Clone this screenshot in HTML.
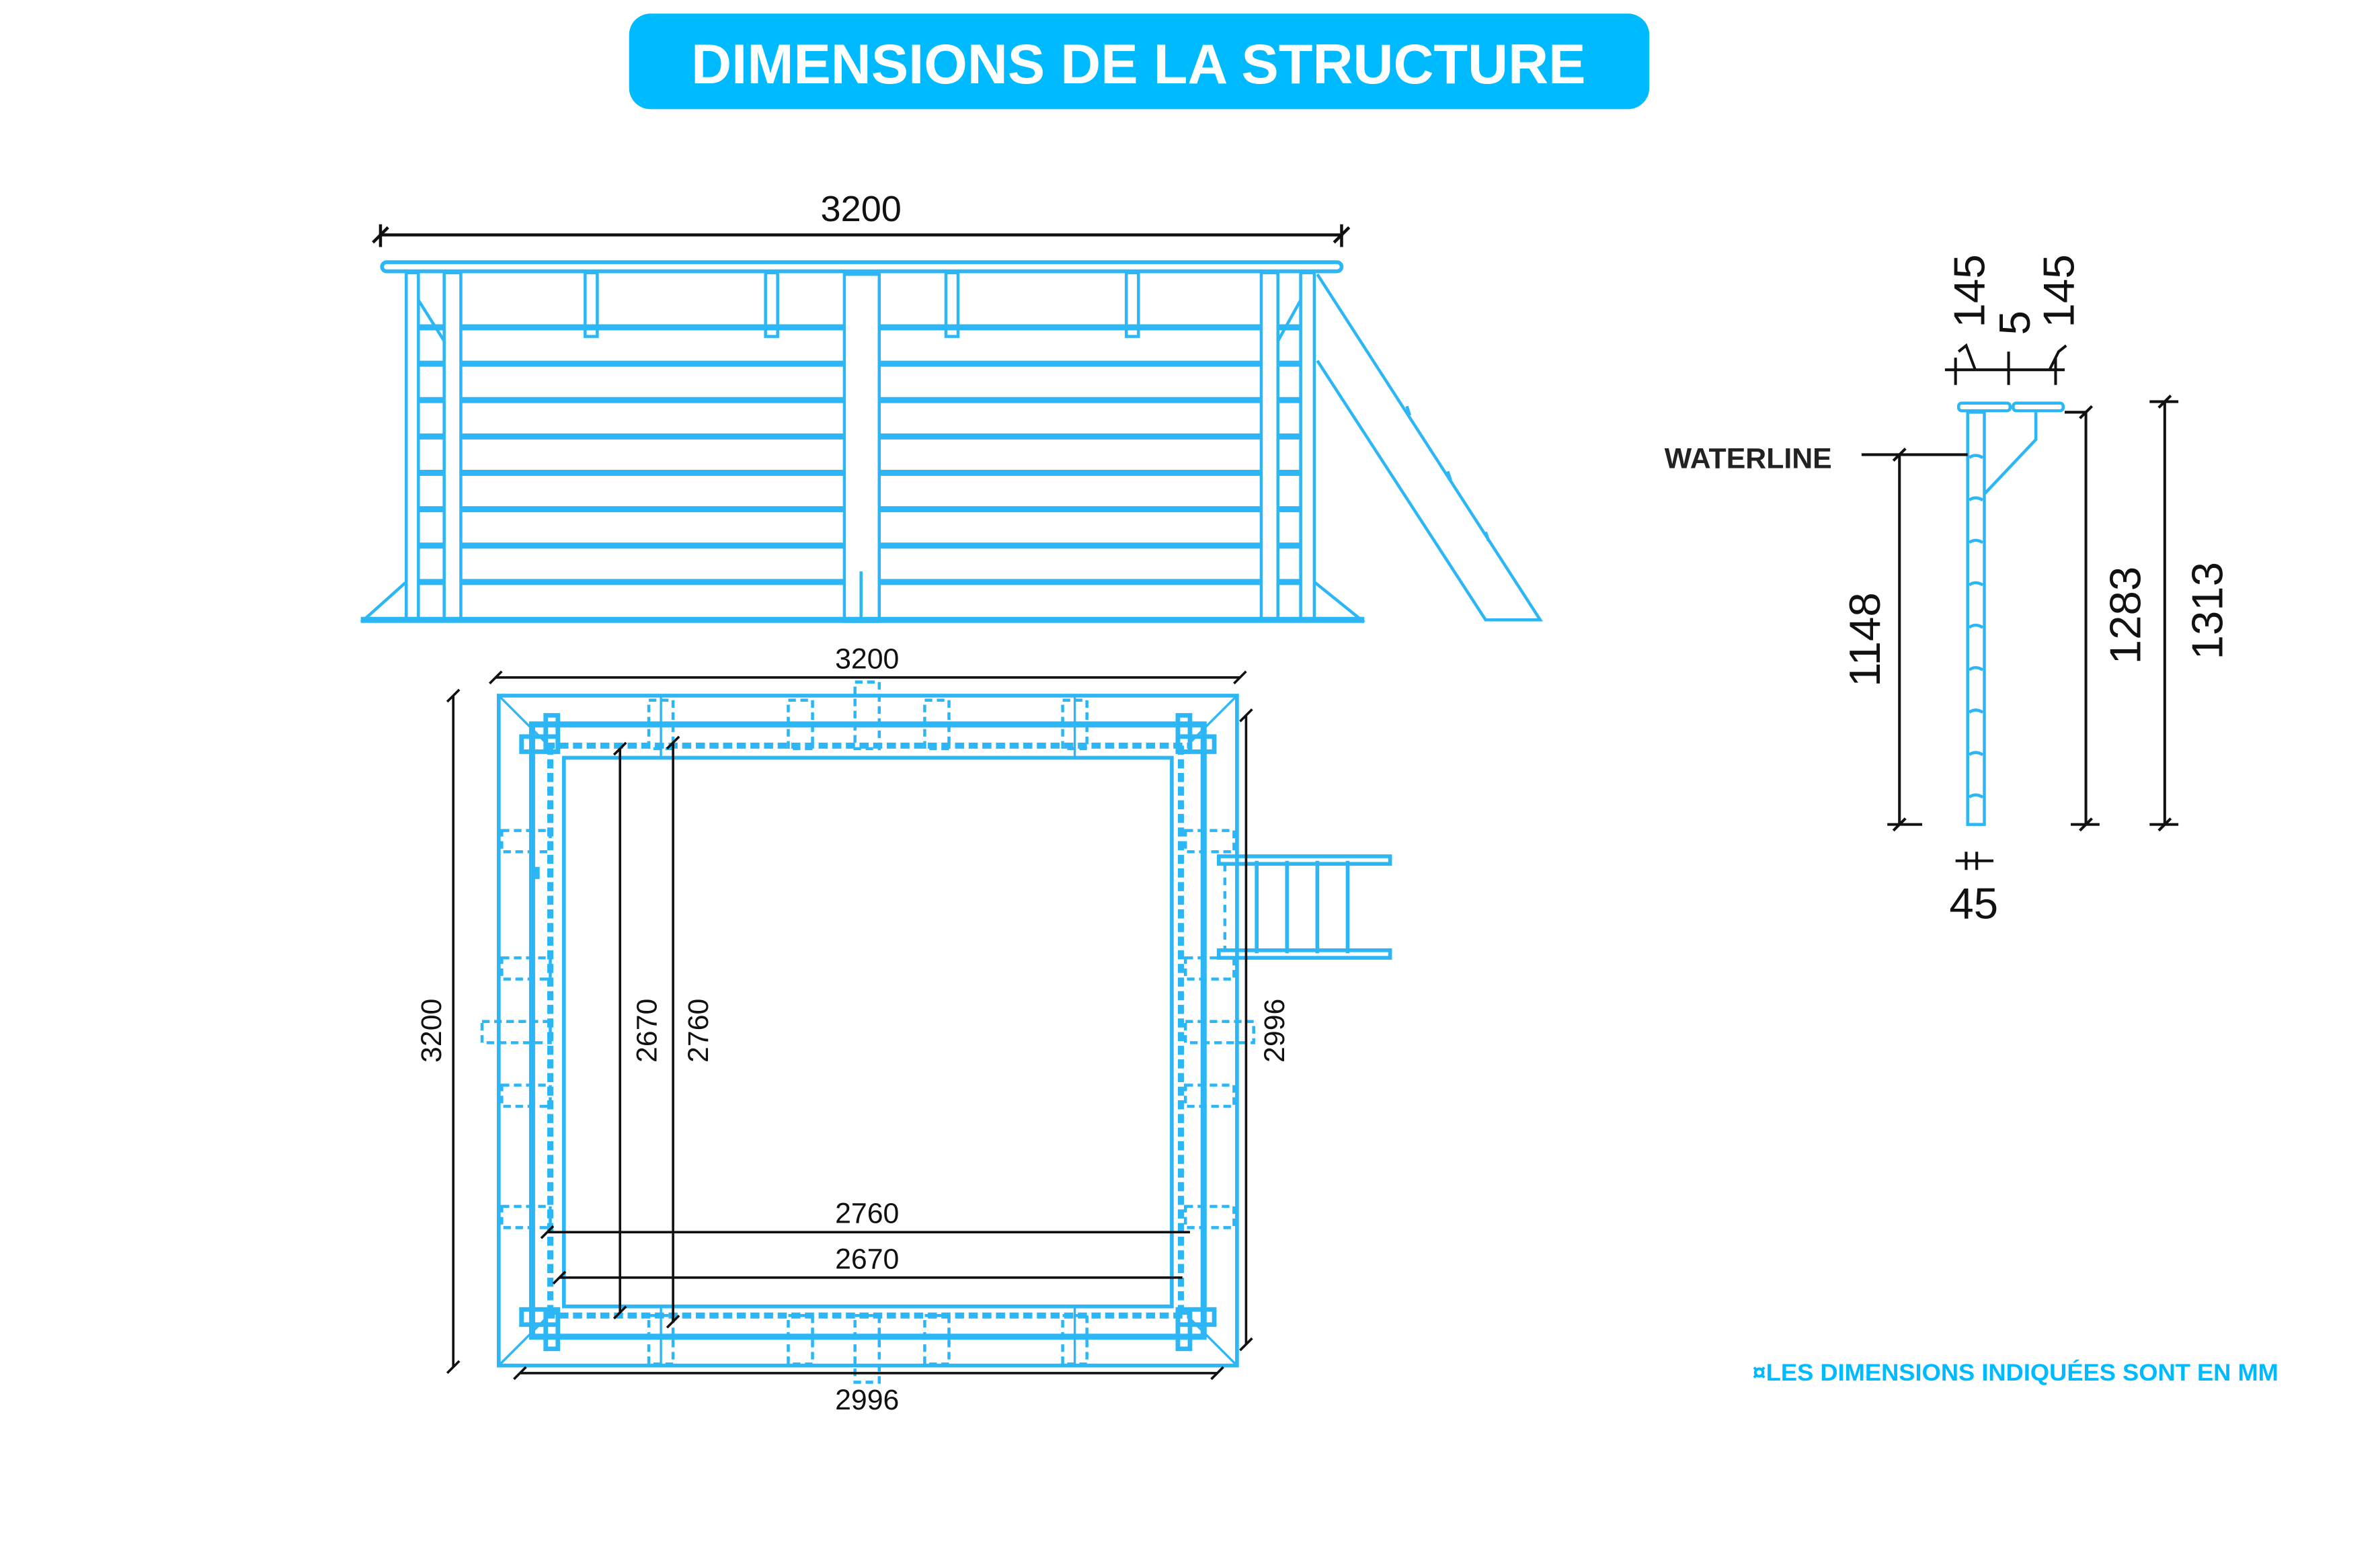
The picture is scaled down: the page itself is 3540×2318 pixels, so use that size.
<!DOCTYPE html>
<html><head><meta charset="utf-8"><style>
html,body{margin:0;padding:0;background:#fff;}
svg{display:block;}
text{font-family:"Liberation Sans","DejaVu Sans",sans-serif;}
</style></head><body>
<svg width="3540" height="2318" viewBox="0 0 1570 1028" preserveAspectRatio="none" xmlns="http://www.w3.org/2000/svg">
<rect x="0" y="0" width="1570" height="1028" fill="#fff"/>
<!-- Title -->
<rect x="415" y="9" width="673" height="63" rx="14" fill="#00baff"/>
<text x="751" y="55" text-anchor="middle" font-size="37" font-weight="bold" fill="#fff" textLength="590" lengthAdjust="spacingAndGlyphs">DIMENSIONS DE LA STRUCTURE</text>

<!-- ELEVATION -->
<g stroke="#111" stroke-width="2" fill="none">
<line x1="250" y1="155" x2="886" y2="155"/>
<line x1="251" y1="148" x2="251" y2="163"/><line x1="885" y1="148" x2="885" y2="163"/>
<line x1="246" y1="160" x2="256" y2="150"/><line x1="880" y1="160" x2="890" y2="150"/>
</g>
<text x="568" y="146" text-anchor="middle" font-size="24" fill="#111">3200</text>
<g stroke="#2db6f5" fill="none" stroke-width="2">
<rect x="252" y="173" width="633" height="6" rx="3" stroke-width="2.5"/>
<rect x="268" y="180" width="8" height="229"/>
<rect x="293" y="180" width="11" height="229"/>
<rect x="557" y="181" width="23" height="229"/>
<line x1="568" y1="377" x2="568" y2="409"/>
<rect x="832" y="180" width="11" height="229"/>
<rect x="858" y="180" width="9" height="229"/>
<rect x="386" y="180" width="8" height="42"/><rect x="505" y="180" width="8" height="42"/>
<rect x="624" y="180" width="8" height="42"/><rect x="743" y="180" width="8" height="42"/>
<line x1="276" y1="198" x2="293" y2="225"/><line x1="858" y1="198" x2="843" y2="225"/>
<polyline points="268,384 240,409 268,409"/>
<polyline points="867,384 898,409 867,409"/>
<!-- ladder -->
<polyline points="869,181 1016,409 980,409 869,238"/>
<path d="M928,268 l2,6 M955,311 l2,6 M980,351 l2,6"/>
</g>
<g stroke="#2db6f5" stroke-width="4">
<line x1="276" y1="216" x2="293" y2="216"/><line x1="304" y1="216" x2="557" y2="216"/><line x1="580" y1="216" x2="832" y2="216"/><line x1="843" y1="216" x2="858" y2="216"/>
<line x1="276" y1="240" x2="293" y2="240"/><line x1="304" y1="240" x2="557" y2="240"/><line x1="580" y1="240" x2="832" y2="240"/><line x1="843" y1="240" x2="858" y2="240"/>
<line x1="276" y1="264" x2="293" y2="264"/><line x1="304" y1="264" x2="557" y2="264"/><line x1="580" y1="264" x2="832" y2="264"/><line x1="843" y1="264" x2="858" y2="264"/>
<line x1="276" y1="288" x2="293" y2="288"/><line x1="304" y1="288" x2="557" y2="288"/><line x1="580" y1="288" x2="832" y2="288"/><line x1="843" y1="288" x2="858" y2="288"/>
<line x1="276" y1="312" x2="293" y2="312"/><line x1="304" y1="312" x2="557" y2="312"/><line x1="580" y1="312" x2="832" y2="312"/><line x1="843" y1="312" x2="858" y2="312"/>
<line x1="276" y1="336" x2="293" y2="336"/><line x1="304" y1="336" x2="557" y2="336"/><line x1="580" y1="336" x2="832" y2="336"/><line x1="843" y1="336" x2="858" y2="336"/>
<line x1="276" y1="360" x2="293" y2="360"/><line x1="304" y1="360" x2="557" y2="360"/><line x1="580" y1="360" x2="832" y2="360"/><line x1="843" y1="360" x2="858" y2="360"/>
<line x1="276" y1="384" x2="293" y2="384"/><line x1="304" y1="384" x2="557" y2="384"/><line x1="580" y1="384" x2="832" y2="384"/><line x1="843" y1="384" x2="858" y2="384"/>
<line x1="238" y1="409" x2="900" y2="409"/>
</g>

<!-- PLAN -->
<g stroke="#2db6f5" fill="none">
<rect x="329" y="459" width="487" height="442" stroke-width="2.5"/>
<rect x="351" y="478" width="443" height="404" stroke-width="4"/>
<rect x="372" y="500" width="401" height="362" stroke-width="2.5"/>
<g stroke-width="4" stroke-dasharray="6,3">
<line x1="360" y1="492" x2="785" y2="492"/><line x1="360" y1="868" x2="785" y2="868"/>
<line x1="363" y1="492" x2="363" y2="868"/><line x1="779" y1="492" x2="779" y2="868"/>
</g>
<g stroke-width="1.5">
<line x1="329" y1="459" x2="360" y2="490"/><line x1="816" y1="459" x2="785" y2="490"/>
<line x1="329" y1="901" x2="360" y2="870"/><line x1="816" y1="901" x2="785" y2="870"/>
<line x1="436" y1="459" x2="436" y2="500"/><line x1="709" y1="459" x2="709" y2="500"/>
<line x1="436" y1="862" x2="436" y2="901"/><line x1="709" y1="862" x2="709" y2="901"/>
</g>
<g stroke-width="2" stroke-dasharray="5,3">
<rect x="428" y="462" width="16" height="32"/><rect x="520" y="462" width="16" height="32"/><rect x="564" y="450" width="16" height="44"/><rect x="610" y="462" width="16" height="32"/><rect x="701" y="462" width="16" height="32"/>
<rect x="428" y="868" width="16" height="32"/><rect x="520" y="868" width="16" height="32"/><rect x="564" y="868" width="16" height="44"/><rect x="610" y="868" width="16" height="32"/><rect x="701" y="868" width="16" height="32"/>
<rect x="331" y="548" width="32" height="14"/><rect x="331" y="632" width="32" height="14"/><rect x="318" y="674" width="45" height="14"/><rect x="331" y="716" width="32" height="14"/><rect x="331" y="796" width="32" height="14"/>
<rect x="782" y="548" width="32" height="14"/><rect x="782" y="632" width="32" height="14"/><rect x="782" y="674" width="45" height="14"/><rect x="782" y="716" width="32" height="14"/><rect x="782" y="796" width="32" height="14"/>
</g>
<g stroke-width="3">
<rect x="344" y="486" width="24" height="10"/><rect x="777" y="486" width="24" height="10"/>
<rect x="344" y="864" width="24" height="10"/><rect x="777" y="864" width="24" height="10"/>
<rect x="360" y="472" width="8" height="24"/><rect x="777" y="472" width="8" height="24"/>
<rect x="360" y="866" width="8" height="24"/><rect x="777" y="866" width="8" height="24"/>
</g>
<g stroke-width="2.5">
<rect x="804" y="565" width="113" height="5"/><rect x="804" y="627" width="113" height="5"/>
<line x1="829" y1="568" x2="829" y2="629"/><line x1="849" y1="568" x2="849" y2="629"/>
<line x1="869" y1="568" x2="869" y2="629"/><line x1="889" y1="568" x2="889" y2="629"/>
</g>
<line x1="808" y1="570" x2="808" y2="627" stroke-width="2" stroke-dasharray="5,4"/>
</g>
<rect x="352" y="572" width="4" height="8" fill="#2db6f5"/>
<g stroke="#111" stroke-width="1.6" fill="none">
<line x1="327" y1="447" x2="818" y2="447"/><line x1="323" y1="451" x2="331" y2="443"/><line x1="814" y1="451" x2="822" y2="443"/>
<line x1="299" y1="459" x2="299" y2="902"/><line x1="295" y1="463" x2="303" y2="455"/><line x1="295" y1="906" x2="303" y2="898"/>
<line x1="409" y1="494" x2="409" y2="866"/><line x1="405" y1="498" x2="413" y2="490"/><line x1="405" y1="870" x2="413" y2="862"/>
<line x1="444" y1="490" x2="444" y2="872"/><line x1="440" y1="494" x2="448" y2="486"/><line x1="440" y1="876" x2="448" y2="868"/>
<line x1="361" y1="813" x2="785" y2="813"/><line x1="357" y1="817" x2="365" y2="809"/>
<line x1="369" y1="843" x2="780" y2="843"/><line x1="365" y1="847" x2="373" y2="839"/>
<line x1="343" y1="906" x2="803" y2="906"/><line x1="339" y1="910" x2="347" y2="902"/><line x1="799" y1="910" x2="807" y2="902"/>
<line x1="822" y1="472" x2="822" y2="887"/><line x1="818" y1="476" x2="826" y2="468"/><line x1="818" y1="891" x2="826" y2="883"/>
</g>
<g font-size="19" fill="#111" text-anchor="middle">
<text x="572" y="441">3200</text>
<text x="572" y="807">2760</text>
<text x="572" y="837">2670</text>
<text x="572" y="930">2996</text>
<text transform="translate(291,680) rotate(-90)">3200</text>
<text transform="translate(433,680) rotate(-90)">2670</text>
<text transform="translate(467,680) rotate(-90)">2760</text>
<text transform="translate(847,680) rotate(-90)">2996</text>
</g>

<!-- SECTION -->
<g stroke="#2db6f5" fill="none" stroke-width="2">
<rect x="1292" y="266" width="34" height="5" rx="2"/><rect x="1328" y="266" width="33" height="5" rx="2"/>
<rect x="1298" y="272" width="11" height="272"/>
<polyline points="1343,272 1343,290 1309,326"/>
<path d="M1299,302 q4,-3 9,0 M1299,330 q4,-3 9,0 M1299,358 q4,-3 9,0 M1299,386 q4,-3 9,0 M1299,414 q4,-3 9,0 M1299,442 q4,-3 9,0 M1299,470 q4,-3 9,0 M1299,498 q4,-3 9,0 M1299,526 q4,-3 9,0"/>
</g>
<g stroke="#111" stroke-width="1.8" fill="none">
<line x1="1228" y1="300" x2="1298" y2="300"/>
<line x1="1253" y1="300" x2="1253" y2="544"/><line x1="1249" y1="304" x2="1257" y2="296"/><line x1="1245" y1="544" x2="1268" y2="544"/><line x1="1249" y1="548" x2="1257" y2="540"/>
<line x1="1362" y1="272" x2="1376" y2="272"/>
<line x1="1376" y1="272" x2="1376" y2="544"/><line x1="1372" y1="276" x2="1380" y2="268"/><line x1="1366" y1="544" x2="1385" y2="544"/><line x1="1372" y1="548" x2="1380" y2="540"/>
<line x1="1428" y1="265" x2="1428" y2="544"/><line x1="1418" y1="265" x2="1437" y2="265"/><line x1="1424" y1="269" x2="1432" y2="261"/><line x1="1418" y1="544" x2="1437" y2="544"/><line x1="1424" y1="548" x2="1432" y2="540"/>
<line x1="1283" y1="244" x2="1362" y2="244"/>
<line x1="1290" y1="236" x2="1290" y2="254"/><line x1="1325" y1="232" x2="1325" y2="254"/><line x1="1356" y1="236" x2="1356" y2="254"/>
<polyline points="1292,232 1297,228 1303,244"/><polyline points="1352,244 1358,232 1363,228"/>
<line x1="1290" y1="568" x2="1315" y2="568"/><line x1="1297" y1="562" x2="1297" y2="574"/><line x1="1304" y1="562" x2="1304" y2="574"/>
</g>
<text x="1098" y="309" font-size="19" font-weight="bold" fill="#222">WATERLINE</text>
<g font-size="29" fill="#111" text-anchor="middle">
<text transform="translate(1240,422) rotate(-90)">1148</text>
<text transform="translate(1412,406) rotate(-90)">1283</text>
<text transform="translate(1466,403) rotate(-90)">1313</text>
<text transform="translate(1309,192) rotate(-90)">145</text>
<text transform="translate(1339,213) rotate(-90)">5</text>
<text transform="translate(1368,192) rotate(-90)">145</text>
<text x="1302" y="606">45</text>
</g>
<text x="1156" y="911" font-size="15.5" font-weight="bold" fill="#00baff" textLength="347" lengthAdjust="spacingAndGlyphs">¤LES DIMENSIONS INDIQUÉES SONT EN MM</text>
</svg>
</body></html>
